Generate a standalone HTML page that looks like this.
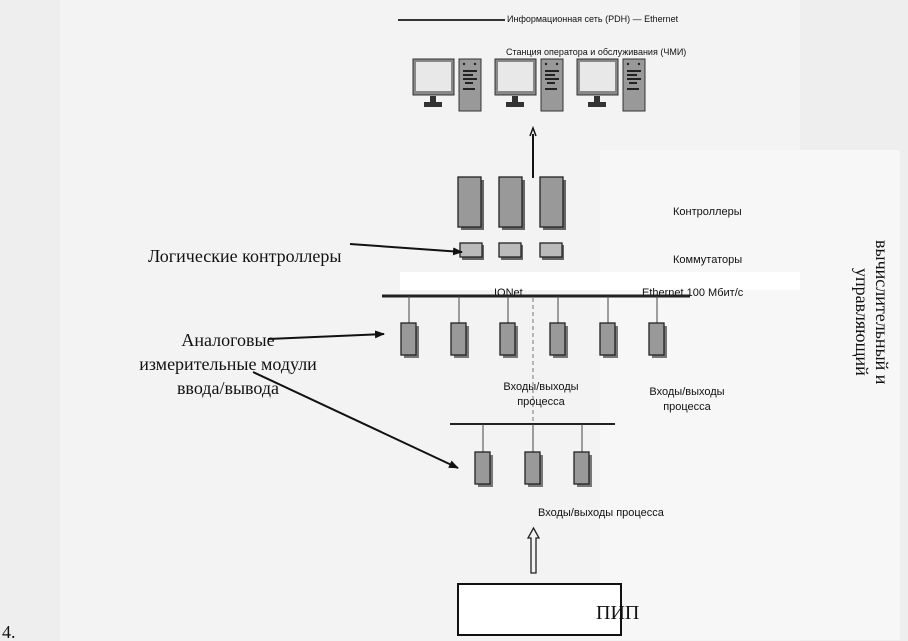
<!DOCTYPE html>
<html><head><meta charset="utf-8"><style>
html,body{margin:0;padding:0;background:#eeeeee;}
svg{display:block;}
.s{font-family:"Liberation Sans",sans-serif;fill:#111;}
.r{font-family:"Liberation Serif",serif;fill:#111;}
</style></head><body>
<svg width="908" height="641" viewBox="0 0 908 641" xmlns="http://www.w3.org/2000/svg">
<defs>
<marker id="ah" markerWidth="10" markerHeight="8" refX="9" refY="4" orient="auto" markerUnits="userSpaceOnUse">
<path d="M0,0 L10,4 L0,8 z" fill="#111"/></marker>
<g id="pc">
<rect x="1" y="1" width="41" height="36" fill="#888" stroke="#333" stroke-width="1"/>
<rect x="4" y="4" width="35" height="29" fill="#e8e8e8"/>
<rect x="18" y="38" width="6" height="6" fill="#333"/>
<rect x="12" y="44" width="18" height="5" fill="#333"/>
<rect x="47" y="1" width="22" height="52" fill="#999" stroke="#333"/>
<circle cx="52" cy="6" r="1.2" fill="#222"/><circle cx="63" cy="6" r="1.2" fill="#222"/>
<rect x="51" y="12" width="14" height="2" fill="#222"/>
<rect x="51" y="16" width="10" height="2" fill="#222"/>
<rect x="51" y="20" width="14" height="2" fill="#222"/>
<rect x="53" y="24" width="8" height="2" fill="#222"/>
<rect x="51" y="30" width="12" height="2" fill="#222"/>
</g>
<g id="mod"><rect x="3" y="3" width="15" height="32" fill="#777"/><rect x="0" y="0" width="15" height="32" fill="#999" stroke="#222" stroke-width="1.3"/></g>
</defs>
<rect x="0" y="0" width="908" height="641" fill="#eeeeee"/>
<rect x="60" y="0" width="740" height="641" fill="#f3f3f3"/>
<rect x="600" y="150" width="300" height="490" fill="#f7f7f7"/>
<rect x="400" y="272" width="400" height="18" fill="#fff"/>
<rect x="458" y="584" width="163" height="51" fill="#fff"/>

<line x1="398" y1="20" x2="505" y2="20" stroke="#333" stroke-width="2"/>
<text class="s" x="507" y="22" font-size="9">Информационная сеть (PDH) — Ethernet</text>
<text class="s" x="506" y="55" font-size="9">Станция оператора и обслуживания (ЧМИ)</text>
<use href="#pc" x="412" y="58"/>
<use href="#pc" x="494" y="58"/>
<use href="#pc" x="576" y="58"/>

<line x1="533" y1="178" x2="533" y2="134" stroke="#111" stroke-width="2"/>
<path d="M530,136 L533,128 L536,136" fill="none" stroke="#111" stroke-width="1.5"/>

<g fill="#999" stroke="#222" stroke-width="1.3">
<rect x="461" y="180" width="23" height="50" fill="#666" stroke="none"/>
<rect x="458" y="177" width="23" height="50"/>
<rect x="502" y="180" width="23" height="50" fill="#666" stroke="none"/>
<rect x="499" y="177" width="23" height="50"/>
<rect x="543" y="180" width="23" height="50" fill="#666" stroke="none"/>
<rect x="540" y="177" width="23" height="50"/>
<rect x="462" y="245" width="22" height="15" fill="#666" stroke="none"/>
<rect x="460" y="243" width="22" height="14" fill="#bbb"/>
<rect x="501" y="245" width="22" height="15" fill="#666" stroke="none"/>
<rect x="499" y="243" width="22" height="14" fill="#bbb"/>
<rect x="542" y="245" width="22" height="15" fill="#666" stroke="none"/>
<rect x="540" y="243" width="22" height="14" fill="#bbb"/>
</g>
<text class="s" x="673" y="215" font-size="11">Контроллеры</text>
<text class="s" x="673" y="263" font-size="11">Коммутаторы</text>

<text class="s" x="494" y="296" font-size="11">IONet</text>
<text class="s" x="642" y="296" font-size="11">Ethernet 100 Мбит/с</text>
<line x1="382" y1="296" x2="690" y2="296" stroke="#222" stroke-width="3"/>
<g stroke="#444" stroke-width="1">
<line x1="409" y1="296" x2="409" y2="323"/><line x1="459" y1="296" x2="459" y2="323"/>
<line x1="508" y1="296" x2="508" y2="323"/><line x1="558" y1="296" x2="558" y2="323"/>
<line x1="608" y1="296" x2="608" y2="323"/><line x1="657" y1="296" x2="657" y2="323"/>
</g>
<use href="#mod" x="401" y="323"/><use href="#mod" x="451" y="323"/><use href="#mod" x="500" y="323"/>
<use href="#mod" x="550" y="323"/><use href="#mod" x="600" y="323"/><use href="#mod" x="649" y="323"/>
<line x1="533" y1="298" x2="533" y2="424" stroke="#777" stroke-width="1" stroke-dasharray="4,3"/>
<text class="s" x="541" y="390" font-size="11" text-anchor="middle">Входы/выходы</text>
<text class="s" x="541" y="405" font-size="11" text-anchor="middle">процесса</text>
<text class="s" x="687" y="395" font-size="11" text-anchor="middle">Входы/выходы</text>
<text class="s" x="687" y="410" font-size="11" text-anchor="middle">процесса</text>

<line x1="450" y1="424" x2="615" y2="424" stroke="#222" stroke-width="2"/>
<g stroke="#444" stroke-width="1">
<line x1="483" y1="424" x2="483" y2="452"/><line x1="533" y1="424" x2="533" y2="452"/><line x1="582" y1="424" x2="582" y2="452"/>
</g>
<use href="#mod" x="475" y="452"/><use href="#mod" x="525" y="452"/><use href="#mod" x="574" y="452"/>
<text class="s" x="538" y="516" font-size="11">Входы/выходы процесса</text>

<path d="M531,573 L531,538 L528,538 L533.5,528 L539,538 L536,538 L536,573 z" fill="#f3f3f3" stroke="#222" stroke-width="1.3"/>
<rect x="458" y="584" width="163" height="51" fill="none" stroke="#111" stroke-width="2"/>
<text class="r" x="596" y="619" font-size="20">ПИП</text>

<text class="r" x="148" y="262" font-size="18">Логические контроллеры</text>
<line x1="350" y1="244" x2="462" y2="252" stroke="#111" stroke-width="2" marker-end="url(#ah)"/>
<text class="r" x="228" y="346" font-size="18" text-anchor="middle">Аналоговые</text>
<text class="r" x="228" y="370" font-size="18" text-anchor="middle">измерительные модули</text>
<text class="r" x="228" y="394" font-size="18" text-anchor="middle">ввода/вывода</text>
<line x1="268" y1="339" x2="384" y2="334" stroke="#111" stroke-width="2" marker-end="url(#ah)"/>
<line x1="253" y1="372" x2="458" y2="468" stroke="#111" stroke-width="2" marker-end="url(#ah)"/>

<text class="r" font-size="18" transform="translate(876,240) rotate(90)">вычислительный и</text>
<text class="r" font-size="18" transform="translate(856,268) rotate(90)">управляющий</text>
<text class="r" x="2" y="638" font-size="18">4.</text>
</svg>
</body></html>
